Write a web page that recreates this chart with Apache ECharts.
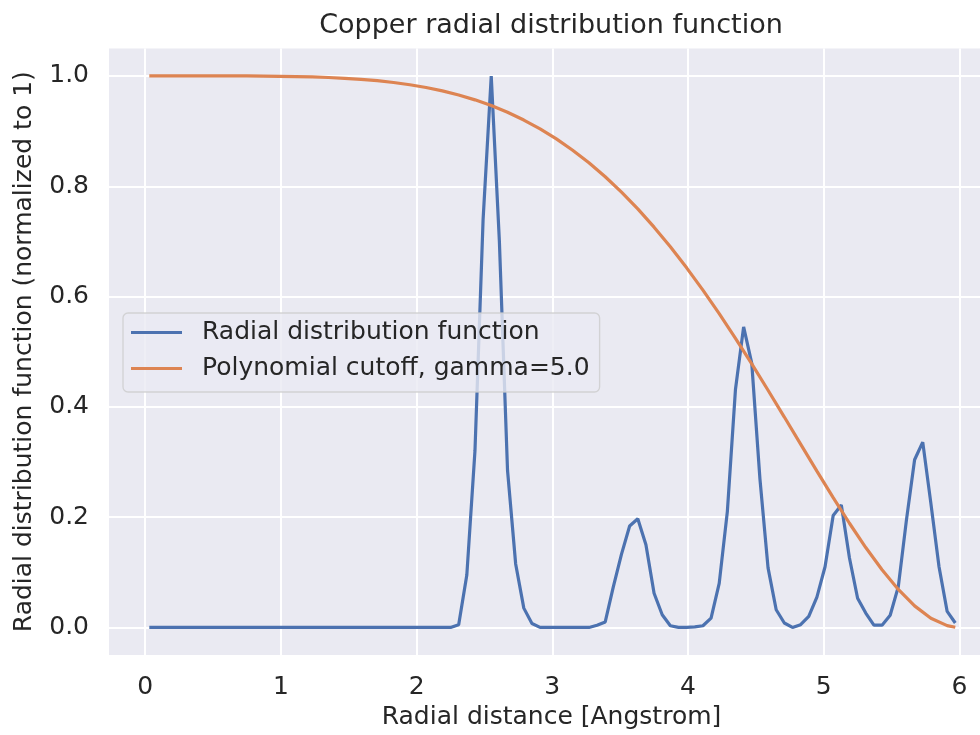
<!DOCTYPE html>
<html>
<head>
<meta charset="utf-8">
<script src="https://cdn.jsdelivr.net/npm/echarts@6/dist/echarts.min.js"></script>
<style>
html,body{margin:0;padding:0;background:#fff;}
#chart{width:980px;height:735px;}
</style>
</head>
<body>
<div id="chart"></div>
<script>
// Radial distance grid (bin centres, Angstrom)
const rdfDistance = [
  0.03,0.09,0.15,0.21,0.27,0.33,0.39,0.45,0.51,0.57,
  0.63,0.69,0.75,0.81,0.87,0.93,0.99,1.05,1.11,1.17,
  1.23,1.29,1.35,1.41,1.47,1.53,1.59,1.65,1.71,1.77,
  1.83,1.89,1.95,2.01,2.07,2.13,2.19,2.25,2.31,2.37,
  2.43,2.49,2.55,2.61,2.67,2.73,2.79,2.85,2.91,2.97,
  3.03,3.09,3.15,3.21,3.27,3.33,3.39,3.45,3.51,3.57,
  3.63,3.69,3.75,3.81,3.87,3.93,3.99,4.05,4.11,4.17,
  4.23,4.29,4.35,4.41,4.47,4.53,4.59,4.65,4.71,4.77,
  4.83,4.89,4.95,5.01,5.07,5.13,5.19,5.25,5.31,5.37,
  5.43,5.49,5.55,5.61,5.67,5.73,5.79,5.85,5.91,5.97
];
// Radial distribution function (normalized to 1)
const rdfValues = [
  0,0,0,0,0,0,0,0,0,0,
  0,0,0,0,0,0,0,0,0,0,
  0,0,0,0,0,0,0,0,0,0,
  0,0,0,0,0,0,0,0,0.005,0.095,
  0.32,0.74,1.0,0.70,0.285,0.115,0.035,0.007,0,0,
  0,0,0,0,0,0.004,0.01,0.074,0.133,0.184,
  0.197,0.15,0.062,0.023,0.003,0,0,0.001,0.003,0.017,
  0.08,0.21,0.432,0.545,0.479,0.27,0.108,0.032,0.008,0,
  0.005,0.02,0.055,0.11,0.203,0.222,0.126,0.053,0.026,0.004,
  0.004,0.022,0.074,0.195,0.304,0.336,0.225,0.11,0.029,0.008
];
// Polynomial cutoff curve
const cutoffDistance = [
  0.03,0.15,0.27,0.39,0.51,0.63,0.75,0.87,0.99,1.11,
  1.23,1.35,1.47,1.59,1.71,1.83,1.95,2.07,2.19,2.31,
  2.43,2.55,2.67,2.79,2.91,3.03,3.15,3.27,3.39,3.51,
  3.63,3.75,3.87,3.99,4.11,4.23,4.35,4.47,4.59,4.71,
  4.83,4.95,5.07,5.19,5.31,5.43,5.55,5.67,5.79,5.91,5.97
];
const cutoffValues = [
  1,1,1,1,1,1,1,0.9997,0.9994,0.9989,
  0.9982,0.9972,0.9958,0.9939,0.9914,0.9882,0.9841,0.9791,0.9730,0.9655,
  0.9567,0.9463,0.9341,0.9201,0.9041,0.8859,0.8654,0.8425,0.8172,0.7893,
  0.7589,0.7258,0.6902,0.6521,0.6116,0.5690,0.5243,0.4779,0.4301,0.3815,
  0.3324,0.2834,0.2353,0.1889,0.1449,0.1046,0.0689,0.0391,0.0167,0.0032,0.0004
];
const seriesNames = ['Radial distribution function', 'Polynomial cutoff, gamma=5.0'];
const titleText = 'Copper radial distribution function';
const xLabel = 'Radial distance [Angstrom]';
const yLabel = 'Radial distribution function (normalized to 1)';

const FONT = 'DejaVu Sans';
const TXT = '#262626';

const chart = echarts.init(document.getElementById('chart'), null, {renderer: 'canvas'});
chart.setOption({
  animation: false,
  backgroundColor: '#ffffff',
  textStyle: {fontFamily: FONT},
  title: {
    text: titleText,
    left: 551,
    textAlign: 'center',
    top: 12,
    padding: 0,
    textStyle: {fontFamily: FONT, fontSize: 27, fontWeight: 'normal', color: TXT}
  },
  grid: {
    left: 109, right: 0, top: 48.4, bottom: 79.7,
    show: true, backgroundColor: '#EAEAF2', borderWidth: 0
  },
  legend: {
    orient: 'vertical',
    left: 123, top: 313,
    padding: [7, 10, 11, 8],
    itemGap: 11,
    itemWidth: 51,
    itemHeight: 3.2,
    icon: 'rect',
    backgroundColor: 'rgba(234,234,242,0.8)',
    borderColor: 'rgba(204,204,204,0.8)',
    borderWidth: 1.3,
    borderRadius: 5,
    data: seriesNames,
    textStyle: {fontFamily: FONT, fontSize: 25, color: TXT, lineHeight: 25, padding: [0, 0, 0, 15]}
  },
  xAxis: {
    type: 'value',
    min: -0.267, max: 6.152,
    name: xLabel,
    nameLocation: 'middle',
    nameGap: 50,
    nameTextStyle: {fontFamily: FONT, fontSize: 25, color: TXT, padding: [0, 0, 0, 14]},
    axisLine: {show: false},
    axisTick: {show: false},
    axisLabel: {fontFamily: FONT, fontSize: 25, color: TXT, margin: 20, showMinLabel: false, showMaxLabel: false},
    splitLine: {show: true, showMinLine: false, showMaxLine: false, lineStyle: {color: '#ffffff', width: 2}}
  },
  yAxis: {
    type: 'value',
    min: -0.05, max: 1.05,
    name: yLabel,
    nameLocation: 'middle',
    nameGap: 72,
    nameTextStyle: {fontFamily: FONT, fontSize: 25, color: TXT},
    axisLine: {show: false},
    axisTick: {show: false},
    axisLabel: {fontFamily: FONT, fontSize: 25, color: TXT, margin: 20, showMinLabel: false, showMaxLabel: false,
      formatter: v => v.toFixed(1)},
    splitLine: {show: true, showMinLine: false, showMaxLine: false, lineStyle: {color: '#ffffff', width: 2}}
  },
  series: [
    {
      name: seriesNames[0], type: 'line', symbol: 'none',
      data: rdfDistance.map((x, i) => [x, rdfValues[i]]),
      lineStyle: {color: '#4C72B0', width: 3.2}, itemStyle: {color: '#4C72B0'}
    },
    {
      name: seriesNames[1], type: 'line', symbol: 'none',
      data: cutoffDistance.map((x, i) => [x, cutoffValues[i]]),
      lineStyle: {color: '#DD8452', width: 3.2}, itemStyle: {color: '#DD8452'}
    }
  ]
});
</script>
</body>
</html>
